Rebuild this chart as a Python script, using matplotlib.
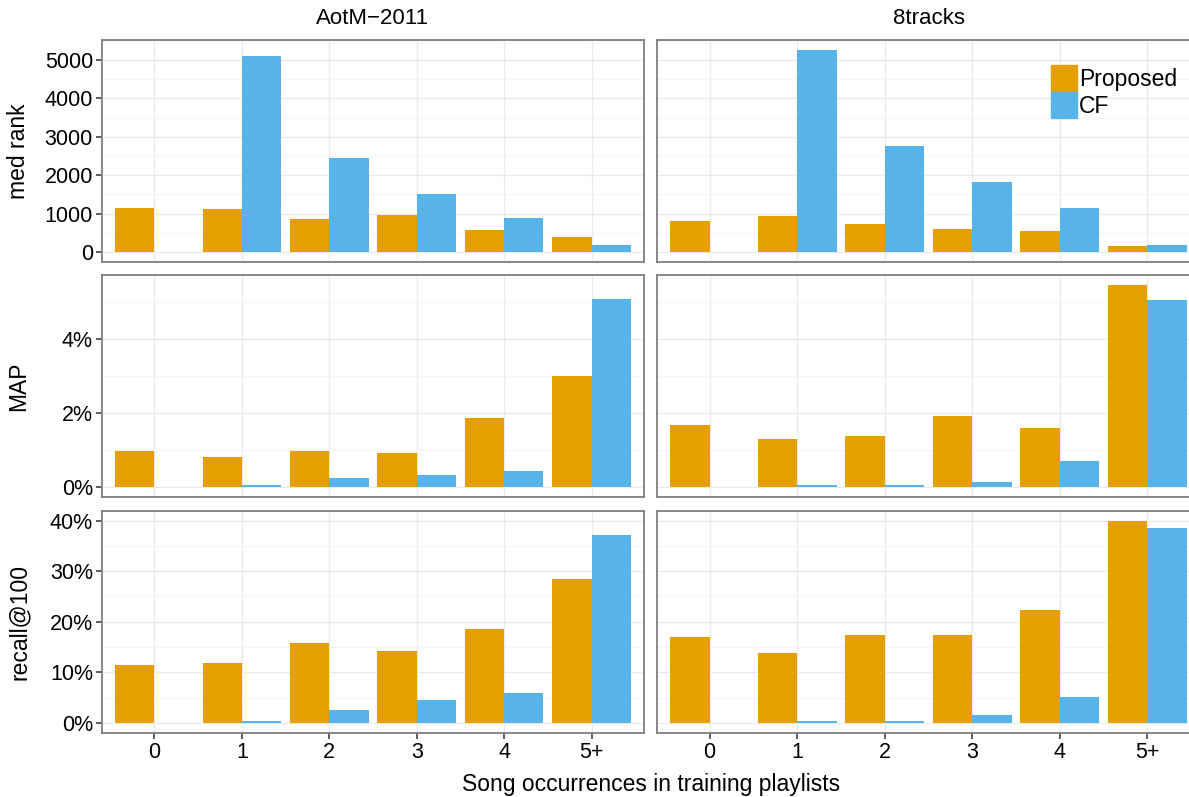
import numpy as np
import matplotlib
matplotlib.use('Agg')
import matplotlib.pyplot as plt
from matplotlib.patches import Patch
from matplotlib.ticker import MultipleLocator, FuncFormatter

plt.rcParams['font.family'] = ['Liberation Sans', 'DejaVu Sans']

categories = ['0', '1', '2', '3', '4', '5+']
datasets = ['AotM\u22122011', '8tracks']
metrics = ['med rank', 'MAP', 'recall@100']

# values per metric: [dataset][category]
medrank_proposed = [[1140, 1110, 860, 965, 575, 390],
                    [810, 935, 730, 600, 550, 155]]
medrank_cf = [[np.nan, 5100, 2450, 1510, 885, 185],
              [np.nan, 5260, 2760, 1820, 1145, 185]]

map_proposed = [[0.96, 0.80, 0.96, 0.91, 1.86, 3.00],
                [1.69, 1.29, 1.39, 1.91, 1.61, 5.47]]
map_cf = [[np.nan, 0.04, 0.25, 0.33, 0.44, 5.09],
          [np.nan, 0.04, 0.06, 0.12, 0.69, 5.06]]

recall_proposed = [[11.4, 11.8, 15.7, 14.3, 18.5, 28.4],
                   [16.9, 13.8, 17.3, 17.3, 22.3, 39.9]]
recall_cf = [[np.nan, 0.3, 2.6, 4.6, 6.0, 37.2],
             [np.nan, 0.3, 0.3, 1.5, 5.2, 38.5]]

rows = [(medrank_proposed, medrank_cf), (map_proposed, map_cf), (recall_proposed, recall_cf)]
major_step = [1000, 2, 10]
fmt = [lambda v, p: f'{v:.0f}', lambda v, p: f'{v:.0f}%', lambda v, p: f'{v:.0f}%']

W, H = 1189, 797
fig = plt.figure(figsize=(W / 100, H / 100), dpi=100)

col_px = [(102, 644), (657, 1200)]
row_px = [(40, 262), (275, 497), (511, 733)]

orange = '#E69F00'
blue = '#56B4E9'
x = np.arange(len(categories))

for r, (prop, cf) in enumerate(rows):
    ymax = np.nanmax(np.array(prop + cf, dtype=float))
    ylim = (-0.05 * ymax, 1.05 * ymax)
    for c in range(2):
        x0, x1 = col_px[c]
        y0, y1 = row_px[r]
        ax = fig.add_axes([x0 / W, 1 - y1 / H, (x1 - x0) / W, (y1 - y0) / H])
        ax.bar(x - 0.225, prop[c], width=0.45, color=orange, zorder=3)
        ax.bar(x + 0.225, cf[c], width=0.45, color=blue, zorder=3)
        ax.set_xlim(-0.6, 5.6)
        ax.set_ylim(*ylim)
        ax.yaxis.set_major_locator(MultipleLocator(major_step[r]))
        ax.yaxis.set_minor_locator(MultipleLocator(major_step[r] / 2))
        ax.yaxis.set_major_formatter(FuncFormatter(fmt[r]))
        ax.set_xticks(x)
        ax.set_xticklabels(categories)
        ax.grid(which='major', color='#EBEBEB', linewidth=1.0, zorder=0)
        ax.grid(which='minor', axis='y', color='#F5F5F5', linewidth=0.8, zorder=0)
        ax.set_axisbelow(True)
        for s in ax.spines.values():
            s.set_color('#7F7F7F')
            s.set_linewidth(1.3)
        ax.tick_params(which='minor', length=0)
        ax.tick_params(which='major', length=4.5, width=1.1, color='#333333',
                       labelsize=15.5, labelcolor='black', pad=2)
        if c == 1:
            ax.tick_params(axis='y', left=False, labelleft=False)
        if r < 2:
            ax.tick_params(axis='x', bottom=False, labelbottom=False)
        if r == 0 and c == 1:
            handles = [Patch(color=orange, label='Proposed'), Patch(color=blue, label='CF')]
            ax.legend(handles=handles, loc='upper left',
                      bbox_to_anchor=(1051 / W, 1 - 65 / H), bbox_transform=fig.transFigure,
                      frameon=False, fontsize=16.5, handlelength=1.135, handleheight=1.37,
                      handletextpad=0.1, labelspacing=0.05, borderpad=0, borderaxespad=0)

for c in range(2):
    fig.text((col_px[c][0] + col_px[c][1]) / 2 / W, 1 - 19 / H, datasets[c],
             ha='center', va='center', fontsize=16)

for r in range(3):
    fig.text(19 / W, 1 - (row_px[r][0] + row_px[r][1]) / 2 / H, metrics[r],
             ha='center', va='center', rotation=90, fontsize=16.5)

fig.text((102 + 1200) / 2 / W, 1 - 791 / H, 'Song occurrences in training playlists',
         ha='center', va='baseline', fontsize=16.5)

fig.savefig('out.png', dpi=100)
